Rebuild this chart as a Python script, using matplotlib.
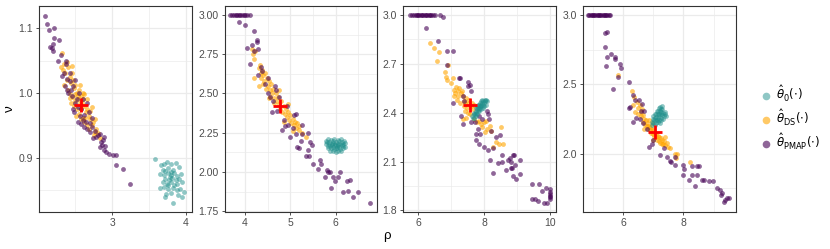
import numpy as np
import matplotlib
matplotlib.use("Agg")
import matplotlib.pyplot as plt
from matplotlib.lines import Line2D

plt.rcParams['font.family'] = ['Liberation Sans', 'DejaVu Sans']

# ---- panel 1 ----
p1_theta0 = [(3.58,0.898),(3.66,0.889),(3.70,0.891),(3.74,0.893),(3.80,0.890),(3.86,0.892),(3.68,0.882),(3.72,0.880),
             (3.76,0.884),(3.82,0.882),(3.90,0.886),(3.65,0.875),(3.70,0.873),(3.75,0.876),(3.79,0.874),(3.84,0.877),
             (3.88,0.872),(3.93,0.875),(3.72,0.868),(3.77,0.866),(3.81,0.869),(3.86,0.866),(3.91,0.868),(3.68,0.862),
             (3.74,0.860),(3.79,0.862),(3.83,0.858),(3.88,0.860),(3.95,0.862),(3.64,0.853),(3.70,0.855),(3.76,0.852),
             (3.82,0.854),(3.87,0.850),(3.92,0.852),(3.97,0.848),(3.73,0.845),(3.80,0.846),(3.89,0.843),(3.95,0.840),
             (3.71,0.840),(3.82,0.831),(3.78,0.870),(3.80,0.878),(3.76,0.858)]
p1_ds = [(2.32,1.061),(2.30,1.040),(2.33,1.035),(2.36,1.030),(2.38,1.020),(2.35,1.012),(2.40,1.040),(2.42,1.025),
         (2.44,1.015),(2.40,1.005),(2.45,1.030),(2.47,1.020),(2.48,1.008),(2.43,0.998),(2.50,1.012),(2.52,1.000),
         (2.46,0.993),(2.50,0.988),(2.53,0.995),(2.55,1.005),(2.48,0.980),(2.52,0.975),(2.56,0.985),(2.58,0.995),
         (2.60,0.990),(2.55,0.968),(2.58,0.975),(2.62,0.980),(2.64,0.970),(2.57,0.960),(2.60,0.962),(2.66,0.975),
         (2.68,0.965),(2.62,0.955),(2.65,0.950),(2.70,0.960),(2.72,0.950),(2.68,0.945),(2.74,0.955),(2.76,0.940),
         (2.78,0.945),(2.75,0.935),(2.80,0.938),(2.83,0.930),(2.45,1.042),(2.38,1.048),(2.50,0.998),(2.54,0.990),
         (2.59,0.985),(2.63,0.962),(2.70,0.972),(2.44,0.985),(2.66,0.990),(2.60,1.000),(2.35,1.045),(2.56,1.012),
         (2.62,0.998),(2.72,0.978),(2.77,0.960),(2.42,0.992),(2.51,0.965)]
p1_pmap = [(2.08,1.119),(2.11,1.107),(2.14,1.097),(2.21,1.100),(2.21,1.085),(2.28,1.081),(2.20,1.076),(2.16,1.071),
           (2.18,1.070),(2.20,1.064),(2.26,1.050),(2.31,1.058),(2.37,1.050),(2.37,1.044),(2.32,1.026),(2.39,1.022),
           (2.34,1.030),(2.42,1.018),(2.36,1.010),(2.44,1.005),(2.40,1.000),(2.47,1.010),(2.45,0.995),(2.50,0.985),
           (2.52,0.990),(2.48,0.970),(2.54,0.978),(2.56,0.965),(2.58,0.975),(2.60,0.958),(2.62,0.966),(2.64,0.955),
           (2.58,0.952),(2.66,0.945),(2.62,0.948),(2.69,0.953),(2.73,0.948),(2.70,0.940),(2.76,0.942),(2.74,0.930),
           (2.80,0.935),(2.83,0.937),(2.78,0.932),(2.87,0.927),(2.89,0.932),(2.83,0.917),(2.86,0.920),(2.90,0.918),
           (2.92,0.909),(2.96,0.906),(3.01,0.905),(3.05,0.905),(3.05,0.889),(3.14,0.883),(3.24,0.860),(2.55,1.000),
           (2.50,1.020),(2.43,1.030),(2.38,1.005),(2.65,0.985),(2.68,0.970),(2.72,0.962),(2.60,0.990),(2.46,0.975),
           (2.53,0.955),(2.84,0.925),(2.88,0.912)]

# ---- panel 2 ----
p2_theta0 = [(5.78,2.20),(5.83,2.21),(5.90,2.205),(5.97,2.21),(6.05,2.205),(6.12,2.21),(6.18,2.20),(5.80,2.19),
             (5.86,2.19),(5.93,2.195),(6.00,2.19),(6.07,2.195),(6.14,2.19),(6.20,2.185),(5.79,2.18),(5.85,2.175),
             (5.92,2.18),(5.98,2.175),(6.04,2.18),(6.10,2.175),(6.17,2.18),(5.82,2.165),(5.88,2.165),(5.95,2.16),
             (6.02,2.165),(6.08,2.16),(6.15,2.165),(6.21,2.16),(5.84,2.15),(5.90,2.15),(5.97,2.145),(6.03,2.15),
             (6.10,2.145),(6.16,2.15),(5.87,2.135),(5.94,2.135),(6.00,2.13),(6.06,2.135),(6.12,2.135),(5.99,2.17),
             (6.06,2.17),(5.92,2.17),(6.13,2.17),(6.01,2.155),(5.95,2.185)]
p2_ds = [(4.18,2.75),(4.22,2.77),(4.20,2.72),(4.15,2.78),(4.20,2.60),(4.30,2.66),(4.33,2.68),(4.35,2.63),
         (4.38,2.65),(4.36,2.60),(4.40,2.62),(4.42,2.58),(4.45,2.63),(4.40,2.56),(4.48,2.60),(4.50,2.55),
         (4.46,2.53),(4.52,2.58),(4.55,2.52),(4.58,2.56),(4.60,2.50),(4.56,2.48),(4.62,2.53),(4.65,2.47),
         (4.68,2.50),(4.63,2.44),(4.70,2.45),(4.72,2.48),(4.75,2.43),(4.78,2.40),(4.80,2.45),(4.82,2.38),
         (4.85,2.42),(4.88,2.37),(4.90,2.40),(4.92,2.35),(4.95,2.38),(4.98,2.33),(5.00,2.36),(5.02,2.31),
         (5.05,2.34),(5.08,2.30),(5.10,2.32),(5.12,2.28),(5.15,2.31),(5.18,2.27),(5.20,2.29),(5.25,2.25),
         (5.35,2.22),(4.32,2.55),(4.75,2.52),(4.53,2.47),(4.85,2.32),(5.05,2.26),(4.95,2.43)]
p2_pmap = [(3.68,3.0),(3.72,3.0),(3.76,3.0),(3.80,3.0),(3.83,3.0),(3.86,3.0),(3.90,3.0),(3.93,3.0),(3.97,3.0),
           (4.01,3.0),(4.05,3.0),(4.10,3.0),(3.87,2.955),(4.00,2.936),(4.20,2.90),(4.05,2.79),(4.15,2.81),
           (4.20,2.77),(4.26,2.83),(4.28,2.78),(4.27,2.84),(4.10,2.69),(4.29,2.62),(4.38,2.64),(4.35,2.67),
           (4.66,2.55),(4.51,2.50),(4.55,2.48),(4.62,2.45),(4.74,2.48),(4.59,2.38),(4.70,2.39),(4.92,2.42),
           (4.85,2.33),(4.88,2.29),(5.12,2.37),(5.07,2.36),(5.25,2.30),(4.45,2.56),(4.50,2.60),(4.68,2.52),
           (4.81,2.27),(5.00,2.22),(5.13,2.24),(5.25,2.24),(5.40,2.25),(5.24,2.20),(5.44,2.19),(5.47,2.17),
           (5.14,2.16),(5.19,2.15),(5.40,2.14),(5.35,2.10),(5.42,2.10),(5.51,2.05),(5.66,2.075),(5.67,2.05),
           (5.60,2.02),(5.80,2.01),(5.84,2.00),(5.87,2.00),(6.10,2.00),(5.77,1.97),(5.95,1.97),(5.99,1.94),
           (6.05,1.97),(5.90,1.90),(6.25,1.94),(6.32,1.95),(6.17,1.875),(6.28,1.88),(6.38,1.84),(6.50,1.87),
           (6.76,1.80),(4.95,2.30),(5.05,2.28)]

# ---- panel 3 ----
p3_theta0 = [(7.64,2.38),(7.68,2.39),(7.70,2.40),(7.72,2.39),(7.74,2.41),(7.76,2.40),(7.78,2.42),
             (7.75,2.43),(7.80,2.41),(7.82,2.43),(7.79,2.44),(7.84,2.42),(7.86,2.44),(7.83,2.45),(7.88,2.43),
             (7.90,2.45),(7.87,2.46),(7.92,2.44),(7.94,2.46),(7.91,2.47),(7.96,2.45),(7.98,2.47),(7.95,2.48),
             (8.00,2.46),(8.02,2.48),(8.04,2.47),(8.06,2.48),(8.08,2.47),(8.05,2.45),(7.85,2.41),
             (7.80,2.45),(7.74,2.38),(7.70,2.37),(7.96,2.43),(8.01,2.44),(7.90,2.42),(7.77,2.39),(7.66,2.37)]
p3_ds = [(6.37,2.83),(6.49,2.80),(6.62,2.77),(6.57,2.72),(6.80,2.65),(6.90,2.69),(6.83,2.62),(6.88,2.60),
         (7.05,2.61),(7.00,2.58),(7.10,2.54),(7.15,2.56),(7.20,2.53),(7.08,2.50),(7.25,2.55),(7.30,2.52),
         (7.18,2.48),(7.35,2.50),(7.40,2.47),(7.28,2.46),(7.45,2.49),(7.50,2.46),(7.38,2.44),(7.55,2.48),
         (7.48,2.43),(7.60,2.44),(7.42,2.41),(7.52,2.40),(7.65,2.42),(7.58,2.39),(7.45,2.37),(7.36,2.36),
         (7.41,2.46),(7.77,2.34),(7.92,2.33),(7.85,2.35),(8.00,2.34),(8.05,2.35),(8.17,2.32),(8.20,2.29),
         (8.50,2.31),(8.27,2.19),(8.45,2.21),(8.58,2.21),(7.70,2.36),(7.95,2.31),(8.10,2.30),(8.02,2.28),
         (7.33,2.53),(7.22,2.50),(7.12,2.52),(7.62,2.46),(7.70,2.45),(8.35,2.22)]
p3_pmap = [(5.75,3.0),(5.80,3.0),(5.86,3.0),(5.92,3.0),(5.97,3.0),(6.00,3.0),(6.04,3.0),(6.08,3.0),(6.12,3.0),
           (6.16,3.0),(6.20,3.0),(6.24,3.0),(6.28,3.0),(6.32,3.0),(6.36,3.0),(6.40,3.0),(6.45,3.0),(6.50,3.0),
           (6.66,3.0),(6.74,2.986),(6.25,2.92),(6.61,2.84),(6.86,2.78),(7.06,2.78),(6.86,2.69),(7.26,2.61),
           (7.50,2.59),(7.52,2.565),(7.25,2.61),(7.56,2.57),(7.61,2.53),(7.35,2.50),(7.05,2.46),(7.36,2.33),
           (7.60,2.34),(7.72,2.34),(8.10,2.41),(8.12,2.39),(8.15,2.36),(7.75,2.27),(7.87,2.27),(7.75,2.23),
           (7.84,2.21),(8.00,2.19),(8.12,2.17),(8.27,2.18),(8.22,2.29),(8.35,2.25),(8.48,2.26),(8.53,2.14),
           (8.19,2.11),(8.42,2.09),(8.53,2.10),(8.27,2.03),(8.66,2.045),(8.73,2.11),(8.78,2.12),(8.88,2.14),
           (8.92,2.14),(8.83,2.10),(8.93,2.08),(9.08,2.11),(8.81,2.06),(8.86,2.06),(8.88,2.01),(8.98,1.99),
           (9.08,2.025),(9.44,1.96),(9.67,1.96),(9.77,1.92),(9.87,1.94),(9.99,1.93),(9.99,1.89),(10.0,1.87),
           (10.0,1.88),(10.0,1.90),(10.0,1.91),(9.44,1.87),(9.54,1.87),(9.62,1.86),(9.81,1.845),(9.91,1.845),
           (7.40,2.47),(7.30,2.38),(7.80,2.30),(7.85,2.38),(7.95,2.36)]

# ---- panel 4 ----
p4_theta0 = [(6.96,2.23),(7.00,2.22),(7.05,2.21),(7.10,2.22),(6.98,2.25),(7.03,2.24),(7.08,2.24),(7.13,2.245),
             (7.18,2.24),(7.00,2.27),(7.05,2.26),(7.10,2.265),(7.15,2.26),(7.20,2.27),(7.25,2.26),(7.04,2.29),
             (7.09,2.285),(7.14,2.29),(7.19,2.285),(7.24,2.29),(7.30,2.28),(7.35,2.27),(7.12,2.31),(7.17,2.305),
             (7.22,2.31),(7.27,2.30),(7.33,2.295),(7.38,2.285),(7.20,2.33),(7.25,2.325),(7.30,2.32),(7.23,2.34),
             (7.28,2.345),(7.40,2.30),(7.43,2.275),(7.32,2.25),(7.27,2.24),(7.15,2.23),(7.22,2.22),(6.95,2.21)]
p4_ds = [(5.84,2.57),(6.29,2.45),(6.36,2.41),(6.32,2.35),(6.45,2.37),(6.50,2.33),(6.55,2.35),(6.48,2.29),
         (6.58,2.30),(6.62,2.32),(6.60,2.27),(6.66,2.28),(6.70,2.25),(6.65,2.23),(6.72,2.21),(6.75,2.24),
         (6.78,2.20),(6.80,2.22),(6.82,2.18),(6.85,2.20),(6.88,2.17),(6.90,2.19),(6.92,2.15),(6.95,2.18),
         (6.98,2.14),(7.00,2.17),(7.03,2.13),(7.05,2.15),(7.08,2.12),(7.10,2.14),(7.12,2.10),(7.15,2.13),
         (7.18,2.09),(7.20,2.12),(7.22,2.08),(7.25,2.11),(7.28,2.07),(7.30,2.10),(7.33,2.07),(7.36,2.09),
         (7.40,2.06),(7.45,2.08),(7.50,2.05),(7.72,2.00),(7.78,2.00),(7.74,1.97),(8.22,1.94),(6.40,2.30),
         (6.68,2.18),(6.85,2.24),(7.00,2.10),(7.38,2.12),(7.55,2.04),(6.95,2.22)]
p4_pmap = [(4.84,3.0),(4.88,3.0),(4.92,3.0),(4.96,3.0),(5.00,3.0),(5.04,3.0),(5.08,3.0),(5.12,3.0),(5.16,3.0),
           (5.20,3.0),(5.24,3.0),(5.28,3.0),(5.32,3.0),(5.36,3.0),(5.40,3.0),(5.44,3.0),(5.48,3.0),(5.52,3.0),
           (5.56,3.0),(5.40,2.87),(5.45,2.88),(5.40,2.77),(5.46,2.70),(5.59,2.72),(5.73,2.70),(5.74,2.68),
           (5.44,2.63),(5.88,2.65),(5.93,2.62),(5.68,2.47),(5.82,2.555),(6.18,2.52),(6.23,2.34),(6.34,2.23),
           (6.51,2.39),(6.62,2.36),(6.70,2.31),(6.56,2.25),(6.67,2.22),(6.79,2.18),(6.34,2.42),(6.40,2.39),
           (6.21,2.33),(6.60,2.31),(6.42,2.26),(7.00,2.10),(6.95,2.07),(6.87,2.05),(7.23,1.99),(7.34,2.04),
           (7.45,1.98),(7.56,1.95),(7.60,1.94),(7.72,1.98),(7.72,1.92),(8.00,1.92),(8.03,1.89),(8.00,1.85),
           (8.17,1.81),(8.28,1.85),(8.28,1.91),(8.44,1.91),(8.50,1.91),(8.44,1.85),(8.39,1.77),(8.61,1.81),
           (8.68,1.81),(8.83,1.80),(8.99,1.80),(9.11,1.75),(9.22,1.74),(9.24,1.70),(9.27,1.72),(9.44,1.68),
           (9.52,1.68),(9.38,1.67),(9.33,1.65)]

truth_rho = [2.58, 4.77, 7.56, 7.04]
truth_nu = [0.981, 2.42, 2.45, 2.16]

xlims = [(2.005, 4.08), (3.56, 6.91), (5.54, 10.18), (4.67, 9.74)]
ylims = [(0.8165, 1.134), (1.745, 3.057), (1.79, 3.055), (1.58, 3.065)]
xticks = [[3, 4], [4, 5, 6], [6, 8, 10], [6, 8]]
xminor = [[2.5, 3.5], [4.5, 5.5, 6.5], [7, 9], [5, 7, 9]]
yticks = [[0.9, 1.0, 1.1], [1.75, 2.0, 2.25, 2.5, 2.75, 3.0], [1.8, 2.1, 2.4, 2.7, 3.0], [2.0, 2.5, 3.0]]
yfmt = ["%.1f", "%.2f", "%.1f", "%.1f"]
yminor = [[0.85, 0.95, 1.05], [1.875, 2.125, 2.375, 2.625, 2.875], [1.95, 2.25, 2.55, 2.85], [1.75, 2.25, 2.75]]

c0 = "#21908C"
cds = "#FFA500"
cpm = "#440154"

fig = plt.figure(figsize=(8.3, 2.49), dpi=100)
lefts = [39, 225, 403, 583]
widths = [153, 152, 153, 153]
panels = [(p1_theta0, p1_ds, p1_pmap), (p2_theta0, p2_ds, p2_pmap),
          (p3_theta0, p3_ds, p3_pmap), (p4_theta0, p4_ds, p4_pmap)]

for i in range(4):
    ax = fig.add_axes([lefts[i]/830, 37/249, widths[i]/830, 206/249])
    t0, ds, pm = [np.array(p) for p in panels[i]]
    ax.scatter(ds[:, 0], ds[:, 1], s=12, color=cds, alpha=0.6, linewidths=0, zorder=3)
    ax.scatter(pm[:, 0], pm[:, 1], s=12, color=cpm, alpha=0.6, linewidths=0, zorder=3)
    ax.scatter(t0[:, 0], t0[:, 1], s=12, color=c0, alpha=0.5, linewidths=0, zorder=3)
    ax.plot(truth_rho[i], truth_nu[i], marker="+", color="red", ms=10, mew=2, zorder=5)
    ax.set_xlim(*xlims[i])
    ax.set_ylim(*ylims[i])
    ax.set_xticks(xticks[i])
    ax.set_xticklabels([str(v) for v in xticks[i]])
    ax.set_yticks(yticks[i])
    ax.set_yticklabels([yfmt[i] % v for v in yticks[i]])
    ax.set_xticks(xminor[i], minor=True)
    ax.set_yticks(yminor[i], minor=True)
    ax.grid(True, which="major", color="#EBEBEB", lw=0.9, zorder=0)
    ax.grid(True, which="minor", color="#EBEBEB", lw=0.5, zorder=0)
    ax.set_axisbelow(True)
    ax.tick_params(which="major", length=2.5, width=0.6, color="#333333", labelsize=7.5,
                   labelcolor="#4D4D4D", pad=2)
    ax.tick_params(which="minor", length=0)
    for s in ax.spines.values():
        s.set_color("#333333")
        s.set_linewidth(0.8)

fig.text(0.012, 1 - 109/249, "ν", rotation=90, fontsize=9.5, ha="center", va="center")
fig.text(387/830, 1 - 236/249, "ρ", fontsize=9.5, ha="center", va="center")

handles = [Line2D([], [], ls="", marker="o", ms=5.5, mew=0, color=c0, alpha=0.5),
           Line2D([], [], ls="", marker="o", ms=5.5, mew=0, color=cds, alpha=0.6),
           Line2D([], [], ls="", marker="o", ms=5.5, mew=0, color=cpm, alpha=0.6)]
labels = [r"$\hat{\theta}_0(\cdot)$", r"$\hat{\theta}_{\mathrm{DS}}(\cdot)$", r"$\hat{\theta}_{\mathrm{PMAP}}(\cdot)$"]
fig.legend(handles, labels, loc="center left", bbox_to_anchor=(755/830, 1 - 118/249), frameon=False,
           fontsize=8.5, handletextpad=0.4, labelspacing=0.35, handlelength=1.0, borderaxespad=0)

fig.savefig("out.png", dpi=100)
